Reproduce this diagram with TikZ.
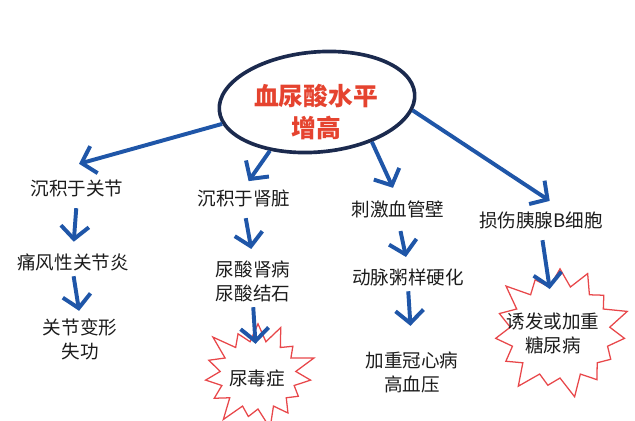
\documentclass[tikz,border=0pt]{standalone}
\usepackage{fontspec}
\usetikzlibrary{arrows.meta,shapes.geometric,shapes.symbols}
\newfontfamily\cjk{Noto Sans CJK SC}
\definecolor{arrblue}{HTML}{1F56A8}
\definecolor{hubnavy}{HTML}{1B2A4E}
\definecolor{titlered}{HTML}{E5432F}
\definecolor{burstred}{HTML}{E8474A}
\definecolor{txtgray}{HTML}{1C1C1C}
\tikzset{
  arr/.style={draw=arrblue, line width=2.8pt, -{Straight Barb[length=3.2mm,width=7mm]}},
  lbl/.style={font=\cjk\fontsize{13.2}{17}\selectfont, text=txtgray, align=center, inner sep=1pt},
  burst/.style={starburst, starburst points=15, starburst point height=0.6cm, draw=burstred, line width=0.9pt, fill=white, inner sep=0pt}
}

\begin{document}
\begin{tikzpicture}[x=0.025cm, y=-0.025cm]
    \useasboundingbox (0,0) rectangle (635,420);
    \node[ellipse, draw=hubnavy, line width=2.6pt, minimum width=4.9cm, minimum height=2.5cm, rotate=5] (hub) at (317,102) {};
    \node[font=\cjk\bfseries\fontsize{17.6}{23}\selectfont, text=titlered, align=center] (hubtxt) at (316,112) {血尿酸水平\\增高};

    \node[lbl] (j1) at (77,188) {沉积于关节};
    \node[lbl] (j2) at (73,262) {痛风性关节炎};
    \node[lbl] (j3) at (80,339) {关节变形\\失功};

    \node[lbl] (k1) at (244,198) {沉积于肾脏};
    \node[lbl] (k2) at (253,281) {尿酸肾病\\尿酸结石};
    \node[burst, minimum width=3.1cm, minimum height=2.9cm] (kb) at (258,375) {};
    \node[lbl] (kbt) at (257,378) {尿毒症};

    \node[lbl] (v1) at (398,209) {刺激血管壁};
    \node[lbl] (v2) at (408,277) {动脉粥样硬化};
    \node[lbl] (v3) at (412,372) {加重冠心病\\高血压};

    \node[lbl] (p1) at (541,220) {损伤胰腺B细胞};
    \node[burst, minimum width=3.7cm, minimum height=3.5cm] (pb) at (560,332) {};
    \node[lbl] (pbt) at (553,333) {诱发或加重\\糖尿病};

    \draw[arr, shorten >=1.3cm] (hub.188) -- (j1.north west);
    \draw[arr, shorten >=0.2cm] (hub.221) -- (k1.north);
    \draw[arr, shorten >=0.3cm] (hub.319) -- (v1.north);
    \draw[arr, shorten >=0.4cm] (hub.350) -- (p1.25);

    \draw[arr, shorten <=0.25cm, shorten >=0.25cm] (j1.south) -- (j2.north);
    \draw[arr, shorten <=0.1cm, shorten >=0.15cm] (j2.south) -- (j3.north);
    \draw[arr, shorten <=0.25cm, shorten >=0.25cm] (k1.south) -- (k2.north);
    \draw[arr, shorten <=0.1cm, shorten >=0.6cm] (k2.south) -- (kbt.north);
    \draw[arr, shorten <=0.3cm, shorten >=0.25cm] (v1.south) -- (v2.north);
    \draw[arr, shorten <=0.1cm, shorten >=0.6cm] (v2.south) -- (v3.north);
    \draw[arr, shorten <=0.25cm, shorten >=0.55cm] (p1.south) -- (pbt.north);
\end{tikzpicture}
\end{document}
